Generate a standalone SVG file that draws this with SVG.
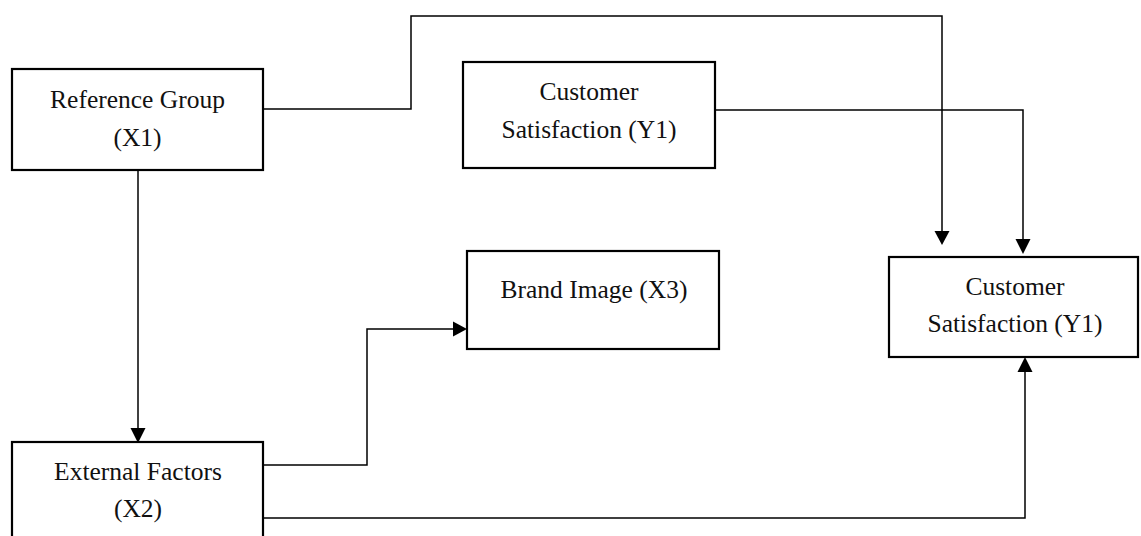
<svg xmlns="http://www.w3.org/2000/svg" width="1141" height="536" viewBox="0 0 1141 536">
  <style>
    .box { fill: #ffffff; stroke: #000000; stroke-width: 2.2; }
    .lbl { font-family: "Liberation Serif", "Times New Roman", serif; font-size: 25.5px; fill: #111111; text-anchor: middle; }
    .wire { fill: none; stroke: #000000; stroke-width: 1.5; }
    .tip { fill: #000000; }
  </style>
  <rect width="1141" height="536" fill="#ffffff"/>

  <!-- connectors: elbow lines with filled triangular heads -->
  <g id="connectors">
    <path class="wire" d="M263,109 H411 V16 H942 V231" />
    <path class="tip" d="M934.5,231 L949.5,231 L942,245 Z"/>
    <path class="wire" d="M716,110 H1023 V239" />
    <path class="tip" d="M1015.5,239 L1030.5,239 L1023,254 Z"/>
    <path class="wire" d="M138,170 V428" />
    <path class="tip" d="M130.5,428 L145.5,428 L138,443 Z"/>
    <path class="wire" d="M264,465 H367 V329 H453" />
    <path class="tip" d="M453,321.5 L453,336.5 L467,329 Z"/>
    <path class="wire" d="M264,518 H1025 V372" />
    <path class="tip" d="M1017.5,372 L1032.5,372 L1025,357 Z"/>
  </g>

  <g id="reference-group">
    <rect class="box" x="12" y="69" width="251" height="101"/>
    <text class="lbl" x="137.5" y="108">Reference Group</text>
    <text class="lbl" x="137.5" y="146">(X1)</text>
  </g>

  <g id="customer-satisfaction-top">
    <rect class="box" x="463" y="62" width="252" height="106"/>
    <text class="lbl" x="589" y="100">Customer</text>
    <text class="lbl" x="589" y="138">Satisfaction (Y1)</text>
  </g>

  <g id="brand-image">
    <rect class="box" x="467" y="251" width="252" height="98"/>
    <text class="lbl" x="594" y="298">Brand Image (X3)</text>
  </g>

  <g id="customer-satisfaction-right">
    <rect class="box" x="889" y="257" width="249" height="100"/>
    <text class="lbl" x="1015" y="295">Customer</text>
    <text class="lbl" x="1015" y="332">Satisfaction (Y1)</text>
  </g>

  <g id="external-factors">
    <rect class="box" x="12" y="442" width="251" height="110"/>
    <text class="lbl" x="138" y="480">External Factors</text>
    <text class="lbl" x="138" y="517">(X2)</text>
  </g>
</svg>
